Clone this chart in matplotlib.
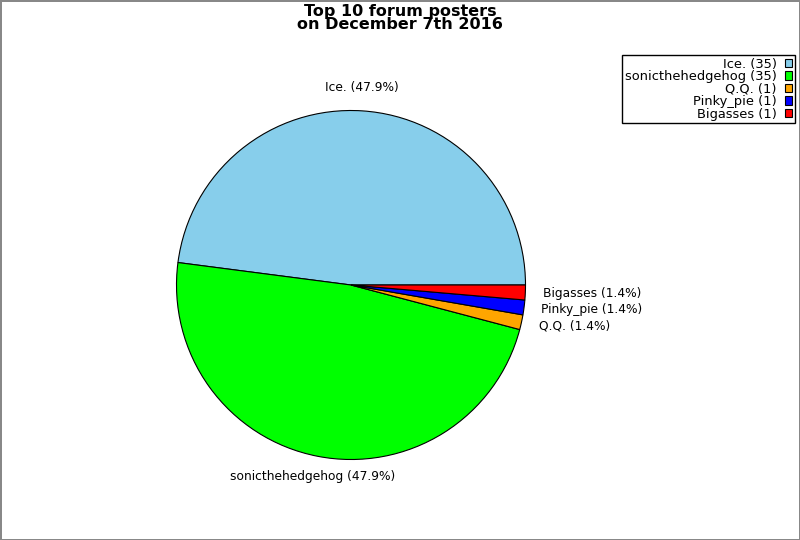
import matplotlib
matplotlib.use("Agg")
import matplotlib.pyplot as plt

# datos del grafico
nombres = ["Ice.", "sonicthehedgehog", "Q.Q.", "Pinky_pie", "Bigasses"]
posts = [35, 35, 1, 1, 1]
colores = ["#87CEEB", "#00FF00", "#FFA500", "#0000FF", "#FF0000"]

total = sum(posts)
etiquetas = ["%s (%.1f%%)" % (n, 100.0 * p / total) for n, p in zip(nombres, posts)]
leyenda = ["%s (%d)" % (n, p) for n, p in zip(nombres, posts)]

fig = plt.figure(figsize=(8, 5.4), dpi=100)
fig.patch.set_edgecolor("#888888")
fig.patch.set_linewidth(2)

# centro ~ (351, 285) px, radio ~ 174.5 px
ax = fig.add_axes([176.5 / 800, (540 - 285 - 174.5) / 540, 349 / 800, 349 / 540])
cunas, textos = ax.pie(posts, labels=etiquetas, colors=colores, startangle=0,
                       counterclock=True, labeldistance=1.1,
                       wedgeprops={"edgecolor": "black", "linewidth": 0.8},
                       textprops={"fontsize": 8.8})
ax.set_xlim(-1, 1)
ax.set_ylim(-1, 1)
ax.set_aspect("equal")

# las etiquetas grandes van centradas
for t in textos[:2]:
    t.set_ha("center")
textos[0].set_position((0.06, 1.13))
textos[1].set_position((-0.22, -1.10))

fig.suptitle("Top 10 forum posters\non December 7th 2016", fontsize=11.5,
             fontweight="bold", y=0.993, linespacing=0.85)

fig.legend(cunas, leyenda, loc="upper right", bbox_to_anchor=(795 / 800, 1 - 55 / 540),
           borderaxespad=0, markerfirst=False, fancybox=False, framealpha=1,
           edgecolor="black", fontsize=9.4, labelspacing=-0.04, handlelength=0.6,
           handleheight=0.6, handletextpad=0.6, borderpad=0.2)

fig.savefig("out.png", dpi=100)
